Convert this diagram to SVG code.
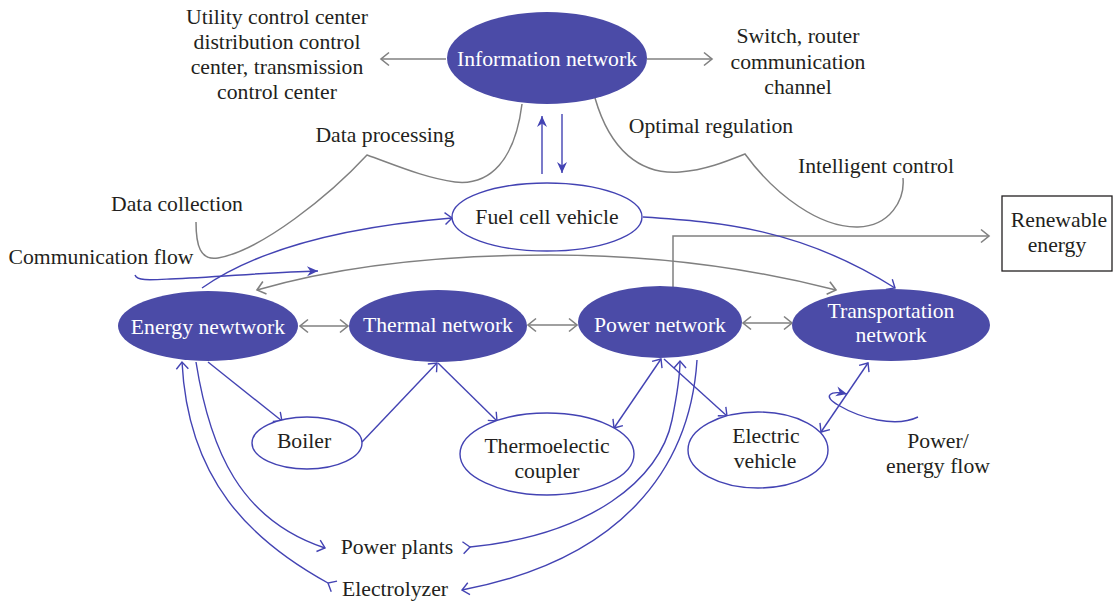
<svg xmlns="http://www.w3.org/2000/svg" width="1113" height="608" viewBox="0 0 1113 608">
  <style>
    text { font-family: "Liberation Serif", "DejaVu Serif", serif; font-size: 21.7px; fill: #231f20; text-anchor: middle; }
    .w { fill: #ffffff; }
    .filled { fill: #4b4ba7; stroke: none; }
    .outline { fill: #ffffff; stroke: #4343b3; stroke-width: 1.4; }
    .g { fill: none; stroke: #808080; stroke-width: 1.5; }
    .b { fill: none; stroke: #4343b3; stroke-width: 1.4; }
  </style>
  <defs>
    <marker id="ag" viewBox="-12 -10 14 20" refX="0" refY="0" markerWidth="14" markerHeight="20" markerUnits="userSpaceOnUse" orient="auto-start-reverse">
      <path d="M-8,-6.5 L0,0 L-8,6.5" fill="none" stroke="#808080" stroke-width="1.6"/>
    </marker>
    <marker id="ab" viewBox="-12 -10 14 20" refX="0" refY="0" markerWidth="14" markerHeight="20" markerUnits="userSpaceOnUse" orient="auto-start-reverse">
      <path d="M-7,-6 L0,0 L-7,6" fill="none" stroke="#4343b3" stroke-width="1.4"/>
    </marker>
    <marker id="at" viewBox="-12 -10 14 20" refX="0" refY="0" markerWidth="14" markerHeight="20" markerUnits="userSpaceOnUse" orient="auto">
      <path d="M-7,-6 L0,0 L-7,6" fill="none" stroke="#4343b3" stroke-width="1.4"/>
    </marker>
    <marker id="as" viewBox="-12 -10 14 20" refX="0" refY="0" markerWidth="14" markerHeight="20" markerUnits="userSpaceOnUse" orient="auto">
      <path d="M0,0 L-11,-5 L-7.5,0 L-11,5 Z" fill="#4343b3"/>
    </marker>
  </defs>

  <!-- connectors -->
  <g id="connectors">
    <!-- information network outputs -->
    <line class="g" x1="446" y1="59" x2="381" y2="59" marker-end="url(#ag)"/>
    <line class="g" x1="647" y1="59" x2="712" y2="59" marker-end="url(#ag)"/>
    <!-- data processing / data collection brace -->
    <path class="g" d="M522,104 C515,160 490,186 455,182 C425,178 395,165 367,155 C330,195 262,250 218,258 C200,261 196,245 196,222"/>
    <!-- optimal regulation / intelligent control brace -->
    <path class="g" d="M595,98 C610,150 640,175 680,172 C705,170 725,162 745,154 C775,195 820,228 858,227 C890,226 905,200 903,178"/>
    <!-- energy network to transportation network -->
    <path class="g" d="M257,290 C350,263 450,255 550,255 C650,255 750,268 836,290" marker-start="url(#ag)" marker-end="url(#ag)"/>
    <!-- power network to renewable energy -->
    <path class="g" d="M673,287 L673,236 L989,236" marker-end="url(#ag)"/>
    <!-- links between networks -->
    <line class="g" x1="300" y1="326" x2="348" y2="326" marker-start="url(#ag)" marker-end="url(#ag)"/>
    <line class="g" x1="528" y1="325" x2="577" y2="325" marker-start="url(#ag)" marker-end="url(#ag)"/>
    <line class="g" x1="743" y1="323" x2="792" y2="323" marker-start="url(#ag)" marker-end="url(#ag)"/>

    <!-- information network and fuel cell vehicle -->
    <line class="b" x1="542" y1="174" x2="542" y2="116" marker-end="url(#as)"/>
    <line class="b" x1="562" y1="114" x2="562" y2="173" marker-end="url(#as)"/>
    <!-- communication flow legend -->
    <path class="b" d="M135,275 C137,281 150,280 170,279 C220,277 270,272 318,271" marker-end="url(#as)"/>
    <!-- energy network to fuel cell vehicle -->
    <path class="b" d="M202,288 Q282,232 452,218" marker-end="url(#ab)"/>
    <!-- fuel cell vehicle to transportation network -->
    <path class="b" d="M643,217 C720,222 800,228 895,288" marker-end="url(#ab)"/>
    <!-- thermal branch -->
    <line class="b" x1="208" y1="362" x2="282" y2="421" marker-end="url(#ab)"/>
    <line class="b" x1="362" y1="442" x2="437" y2="363" marker-end="url(#ab)"/>
    <line class="b" x1="438" y1="363" x2="497" y2="421" marker-end="url(#ab)"/>
    <!-- power branch -->
    <line class="b" x1="661" y1="359" x2="614" y2="428" marker-start="url(#ab)" marker-end="url(#ab)"/>
    <line class="b" x1="664" y1="359" x2="727" y2="416" marker-end="url(#ab)"/>
    <line class="b" x1="868" y1="363" x2="821" y2="432" marker-start="url(#ab)" marker-end="url(#ab)"/>
    <!-- power/energy flow legend -->
    <path class="b" d="M918,417 C895,428 860,418 838,405 C822,396 830,390 847,394" marker-end="url(#as)"/>
    <!-- power plants and electrolyzer loops -->
    <path class="b" d="M196,362 C210,450 240,520 325,548" marker-end="url(#ab)"/>
    <path class="b" d="M328,583 C250,540 188,480 182,362" marker-start="url(#at)" marker-end="url(#ab)"/>
    <path class="b" d="M470,547 C590,535 660,480 672,420 C678,390 680,372 680,361" marker-start="url(#at)" marker-end="url(#ab)"/>
    <path class="b" d="M697,360 C690,470 620,560 462,590" marker-end="url(#ab)"/>
  </g>

  <!-- nodes -->
  <g id="information-network">
    <ellipse class="filled" cx="547" cy="58" rx="100" ry="46"/>
    <text class="w" x="547" y="66">Information network</text>
  </g>
  <g id="fuel-cell-vehicle">
    <ellipse class="outline" cx="547" cy="217" rx="95" ry="34"/>
    <text x="547" y="224">Fuel cell vehicle</text>
  </g>
  <g id="energy-network">
    <ellipse class="filled" cx="208" cy="326" rx="90" ry="35"/>
    <text class="w" x="208" y="334">Energy newtwork</text>
  </g>
  <g id="thermal-network">
    <ellipse class="filled" cx="438" cy="326" rx="89" ry="36"/>
    <text class="w" x="438" y="332">Thermal network</text>
  </g>
  <g id="power-network">
    <ellipse class="filled" cx="660" cy="322" rx="82" ry="36"/>
    <text class="w" x="660" y="332">Power network</text>
  </g>
  <g id="transportation-network">
    <ellipse class="filled" cx="891" cy="325" rx="99" ry="36"/>
    <text class="w" x="891" y="318">Transportation</text>
    <text class="w" x="891" y="342">network</text>
  </g>
  <g id="boiler">
    <ellipse class="outline" cx="307" cy="443" rx="55" ry="26"/>
    <text x="304" y="448">Boiler</text>
  </g>
  <g id="thermoelectic-coupler">
    <ellipse class="outline" cx="547" cy="454" rx="87" ry="41"/>
    <text x="547" y="453">Thermoelectic</text>
    <text x="547" y="478">coupler</text>
  </g>
  <g id="electric-vehicle">
    <ellipse class="outline" cx="758" cy="450" rx="70" ry="38"/>
    <text x="766" y="443">Electric</text>
    <text x="765" y="468">vehicle</text>
  </g>
  <g id="renewable-energy">
    <rect x="1002" y="196" width="110" height="75" fill="#ffffff" stroke="#231f20" stroke-width="1.3"/>
    <text x="1059" y="227">Renewable</text>
    <text x="1057" y="252">energy</text>
  </g>

  <!-- labels -->
  <g id="labels">
    <text x="277" y="24">Utility control center</text>
    <text x="277" y="49">distribution control</text>
    <text x="277" y="74">center, transmission</text>
    <text x="277" y="99">control center</text>
    <text x="798" y="43">Switch, router</text>
    <text x="798" y="69">communication</text>
    <text x="798" y="94">channel</text>
    <text x="385" y="142">Data processing</text>
    <text x="177" y="211">Data collection</text>
    <text x="101" y="264">Communication flow</text>
    <text x="711" y="133">Optimal regulation</text>
    <text x="876" y="173">Intelligent control</text>
    <text x="938" y="448">Power/</text>
    <text x="938" y="473">energy flow</text>
    <text x="397" y="554">Power plants</text>
    <text x="395" y="596">Electrolyzer</text>
  </g>
</svg>
